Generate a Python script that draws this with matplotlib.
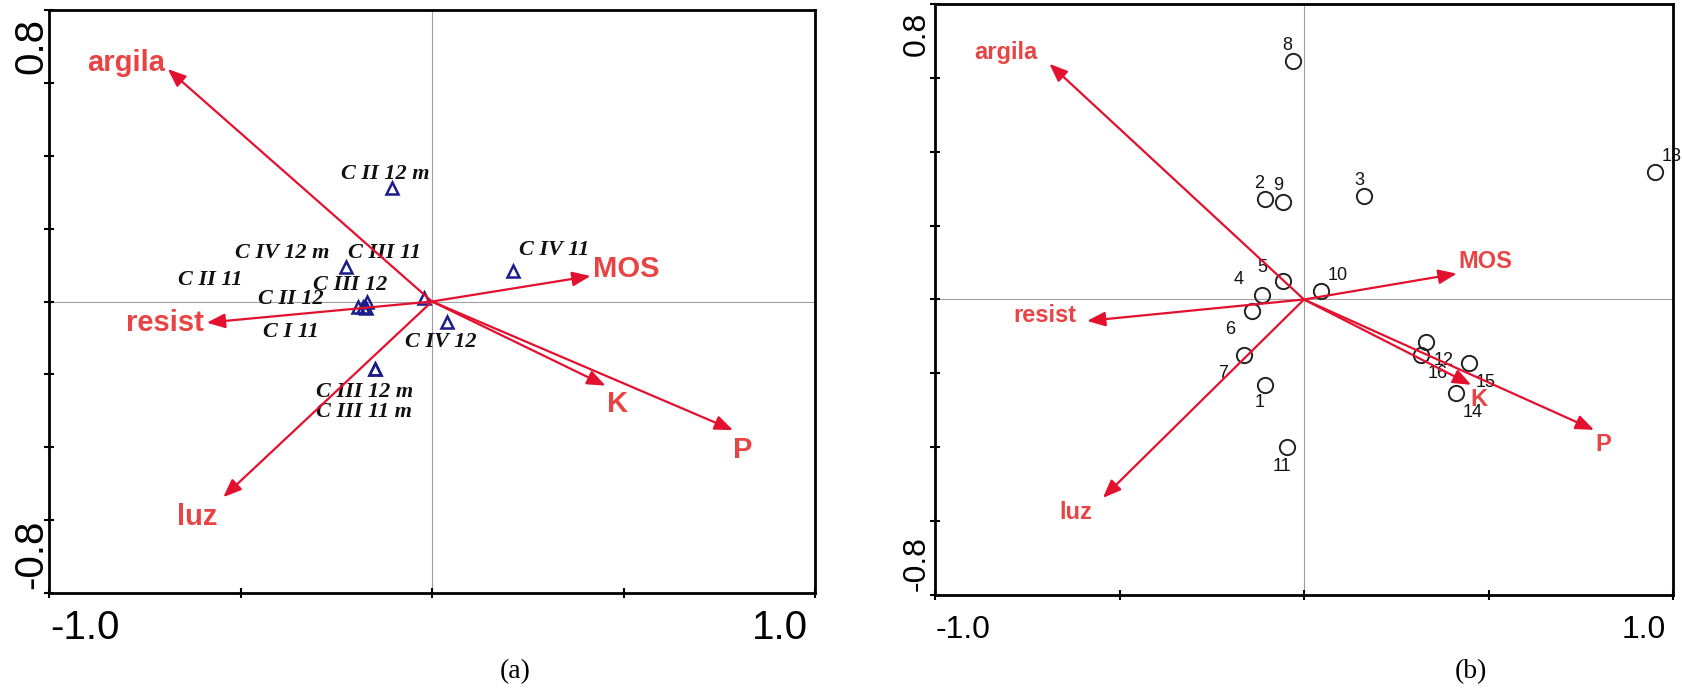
import numpy as np
import matplotlib
matplotlib.use("Agg")
import matplotlib.pyplot as plt

# environmental vectors (same in both panels)
env_names = ["argila", "resist", "MOS", "K", "P", "luz"]
env_x = [-0.69, -0.588, 0.414, 0.453, 0.786, -0.545]
env_y = [0.638, -0.058, 0.070, -0.231, -0.353, -0.537]

# panel (a): sites (triangles)
site_names = ["C II 12 m", "C IV 12 m", "C III 11", "C II 11", "C III 12", "C II 12",
              "C I 11", "C IV 11", "C IV 12", "C III 12 m", "C III 11 m"]
site_x = [-0.104, -0.225, -0.020, -0.193, -0.171, -0.172, -0.180, 0.211, 0.039, -0.149, -0.149]
site_y = [0.312, 0.096, 0.010, -0.014, -0.002, -0.019, -0.015, 0.085, -0.055, -0.184, -0.184]
# where the site labels sit (data coords)
site_lab_x = [-0.123, -0.390, -0.123, -0.580, -0.213, -0.369, -0.369, 0.320, 0.023, -0.175, -0.178]
site_lab_y = [0.351, 0.134, 0.134, 0.058, 0.044, 0.008, -0.085, 0.142, -0.112, -0.247, -0.304]

# panel (b): samples (circles)
samp_names = ["1", "2", "3", "4", "5", "6", "7", "8", "9", "10", "11", "12", "13", "14", "15", "16"]
samp_x = [-0.106, -0.106, 0.163, -0.114, -0.057, -0.141, -0.163, -0.030, -0.057, 0.046,
          -0.046, 0.331, 0.951, 0.412, 0.447, 0.317]
samp_y = [-0.232, 0.273, 0.279, 0.011, 0.049, -0.032, -0.151, 0.646, 0.265, 0.024,
          -0.400, -0.116, 0.346, -0.254, -0.173, -0.149]

# label offsets in pixels
samp_off = {"1": (-5, -17), "2": (-6, 15), "3": (-5, 16), "4": (-23, 16), "5": (-21, 14),
            "6": (-22, -18), "7": (-21, -18), "8": (-6, 15), "9": (-5, 16), "10": (17, 15),
            "11": (-5, -19), "12": (17, -18), "13": (17, 15), "14": (17, -19),
            "15": (17, -19), "16": (17, -19)}
env_off_a = [(-42, 6), (-42, 0), (36, 7), (12, -18), (10, -20), (-26, -20)]
env_off_b = [(-44, 11), (-42, 5), (29, 12), (8, -15), (9, -15), (-27, -15)]

arrow_col = "#e3102e"
lab_col = "#e84444"
W, H = 1682, 690

fig = plt.figure(figsize=(W / 100, H / 100), dpi=100)
ax1 = fig.add_axes([49 / W, 97 / H, 766 / W, 583 / H])
ax2 = fig.add_axes([935 / W, 95 / H, 738 / W, 591 / H])


def setup(ax, tick_fs):
    ax.set_xlim(-1, 1)
    ax.set_ylim(-0.8, 0.8)
    ax.set_xticks([-1, -0.5, 0, 0.5, 1])
    ax.set_yticks(np.round(np.arange(-0.8, 0.81, 0.2), 1))
    ax.set_xticklabels([])
    ax.set_yticklabels([])
    ax.tick_params(direction="inout", length=7, width=1.5)
    for s in ax.spines.values():
        s.set_linewidth(2)
    ax.axhline(0, color="#a0a0a0", lw=0.8, zorder=0)
    ax.axvline(0, color="#a0a0a0", lw=0.8, zorder=0)
    fnt = dict(family="Liberation Sans", fontsize=tick_fs, annotation_clip=False)
    ax.annotate("0.8", xy=(0, 0.8), xycoords=("axes fraction", "data"), xytext=(-18, -8),
                textcoords="offset pixels", rotation=90, ha="center", va="top", **fnt)
    ax.annotate("-0.8", xy=(0, -0.8), xycoords=("axes fraction", "data"), xytext=(-18, 4),
                textcoords="offset pixels", rotation=90, ha="center", va="bottom", **fnt)
    ax.annotate("-1.0", xy=(-1, 0), xycoords=("data", "axes fraction"), xytext=(1, -35),
                textcoords="offset pixels", ha="left", va="center", **fnt)
    ax.annotate("1.0", xy=(1, 0), xycoords=("data", "axes fraction"), xytext=(-7, -35),
                textcoords="offset pixels", ha="right", va="center", **fnt)


def arrows(ax, offs, fs):
    for name, x, y, off in zip(env_names, env_x, env_y, offs):
        ax.annotate("", xy=(x, y), xytext=(0, 0),
                    arrowprops=dict(arrowstyle="-|>,head_length=0.55,head_width=0.22",
                                    color=arrow_col, lw=1.6, mutation_scale=20,
                                    shrinkA=0, shrinkB=0))
        ax.annotate(name, xy=(x, y), xytext=off, textcoords="offset pixels",
                    ha="center", va="center", color=lab_col, fontsize=fs,
                    fontweight="bold", family="Liberation Sans", annotation_clip=False)


# panel (a)
setup(ax1, 29)
ax1.plot(site_x, site_y, "^", ms=8.5, mfc="none", mec="#1c1c8a", mew=1.8, ls="none", zorder=3)
for name, lx, ly in zip(site_names, site_lab_x, site_lab_y):
    ax1.text(lx, ly, name, ha="center", va="center", fontsize=16, fontweight="bold",
             fontstyle="italic", family="Liberation Serif", color="#111111")
arrows(ax1, env_off_a, 21)

# panel (b)
setup(ax2, 23)
ax2.plot(samp_x, samp_y, "o", ms=11, mfc="none", mec="#222222", mew=1.4, ls="none", zorder=3)
for name, x, y in zip(samp_names, samp_x, samp_y):
    ax2.annotate(name, xy=(x, y), xytext=samp_off[name], textcoords="offset pixels",
                 ha="center", va="center", fontsize=13, family="Liberation Sans",
                 color="#111111", annotation_clip=False)
arrows(ax2, env_off_b, 17)

fig.text(515 / W, 1 - 672 / H, "(a)", ha="center", va="center", fontsize=20, family="Liberation Serif")
fig.text(1471 / W, 1 - 672 / H, "(b)", ha="center", va="center", fontsize=20, family="Liberation Serif")

fig.savefig("out.png", dpi=100)
